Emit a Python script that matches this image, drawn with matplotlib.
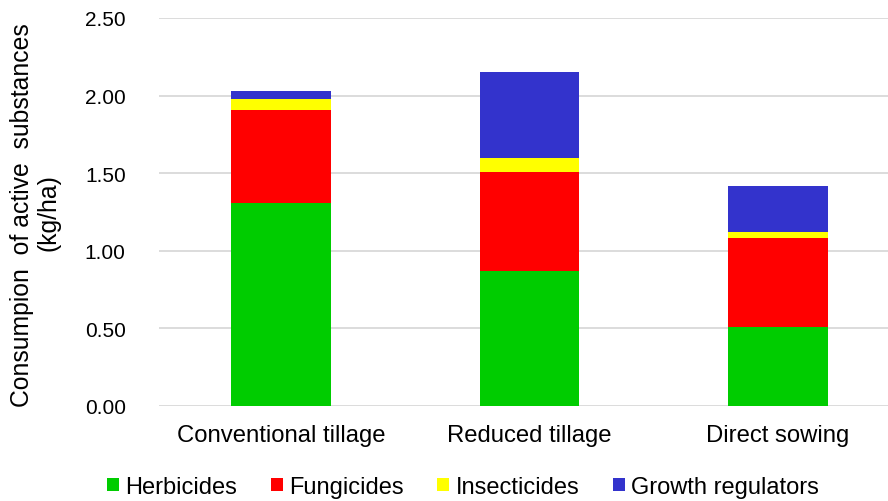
import matplotlib
matplotlib.use("Agg")
import matplotlib.pyplot as plt
import numpy as np

categories = ["Conventional tillage", "Reduced tillage", "Direct sowing"]
herbicides = [1.31, 0.87, 0.51]
fungicides = [0.60, 0.64, 0.57]
insecticides = [0.07, 0.09, 0.04]
growth_regulators = [0.05, 0.55, 0.30]
series_names = ["Herbicides", "Fungicides", "Insecticides", "Growth regulators"]
colors = ["#00CC00", "#FF0000", "#FFFF00", "#3333CC"]
yticks = [0.0, 0.5, 1.0, 1.5, 2.0, 2.5]

plt.rcParams['font.family'] = ['Liberation Sans', 'DejaVu Sans']

fig = plt.figure(figsize=(8.88, 5.02), dpi=100)
W, H = 888, 502
ax = fig.add_axes([159 / W, 95 / H, (888 - 159) / W, (407 - 19) / H])

x = np.arange(len(categories))
bottom = np.zeros(len(categories))
for name, vals, c in zip(series_names,
                         [herbicides, fungicides, insecticides, growth_regulators],
                         colors):
    ax.bar(x, vals, width=0.40, bottom=bottom, color=c, label=name, zorder=3)
    bottom += np.array(vals)

ax.set_xlim(-0.491, 2.443)
ax.set_ylim(0, 2.5)
ax.set_yticks(yticks)
ax.set_yticklabels([f"{v:.2f}" for v in yticks], fontsize=15)
ax.set_xticks(x)
ax.set_xticklabels(categories, fontsize=17.2)
ax.tick_params(axis='y', length=0, pad=24)
ax.tick_params(axis='x', length=0, pad=13)
ax.grid(axis='y', color='#d9d9d9', linewidth=1.3, zorder=0)
for s in ax.spines.values():
    s.set_visible(False)

fig.text(22 / W, 1 - 215 / H, "Consumpion  of active  substances", rotation=90,
         ha='center', va='center', fontsize=17.8)
fig.text(48 / W, 1 - 213 / H, "(kg/ha)", rotation=90, ha='center', va='center',
         fontsize=17.8)

fig.legend(loc='center', bbox_to_anchor=(463 / W, 1 - 488 / H), ncol=4,
           frameon=False, fontsize=17, handlelength=0.51, handleheight=0.5,
           handletextpad=0.25, columnspacing=1.44, borderaxespad=0)

fig.savefig("out.png", dpi=100)
